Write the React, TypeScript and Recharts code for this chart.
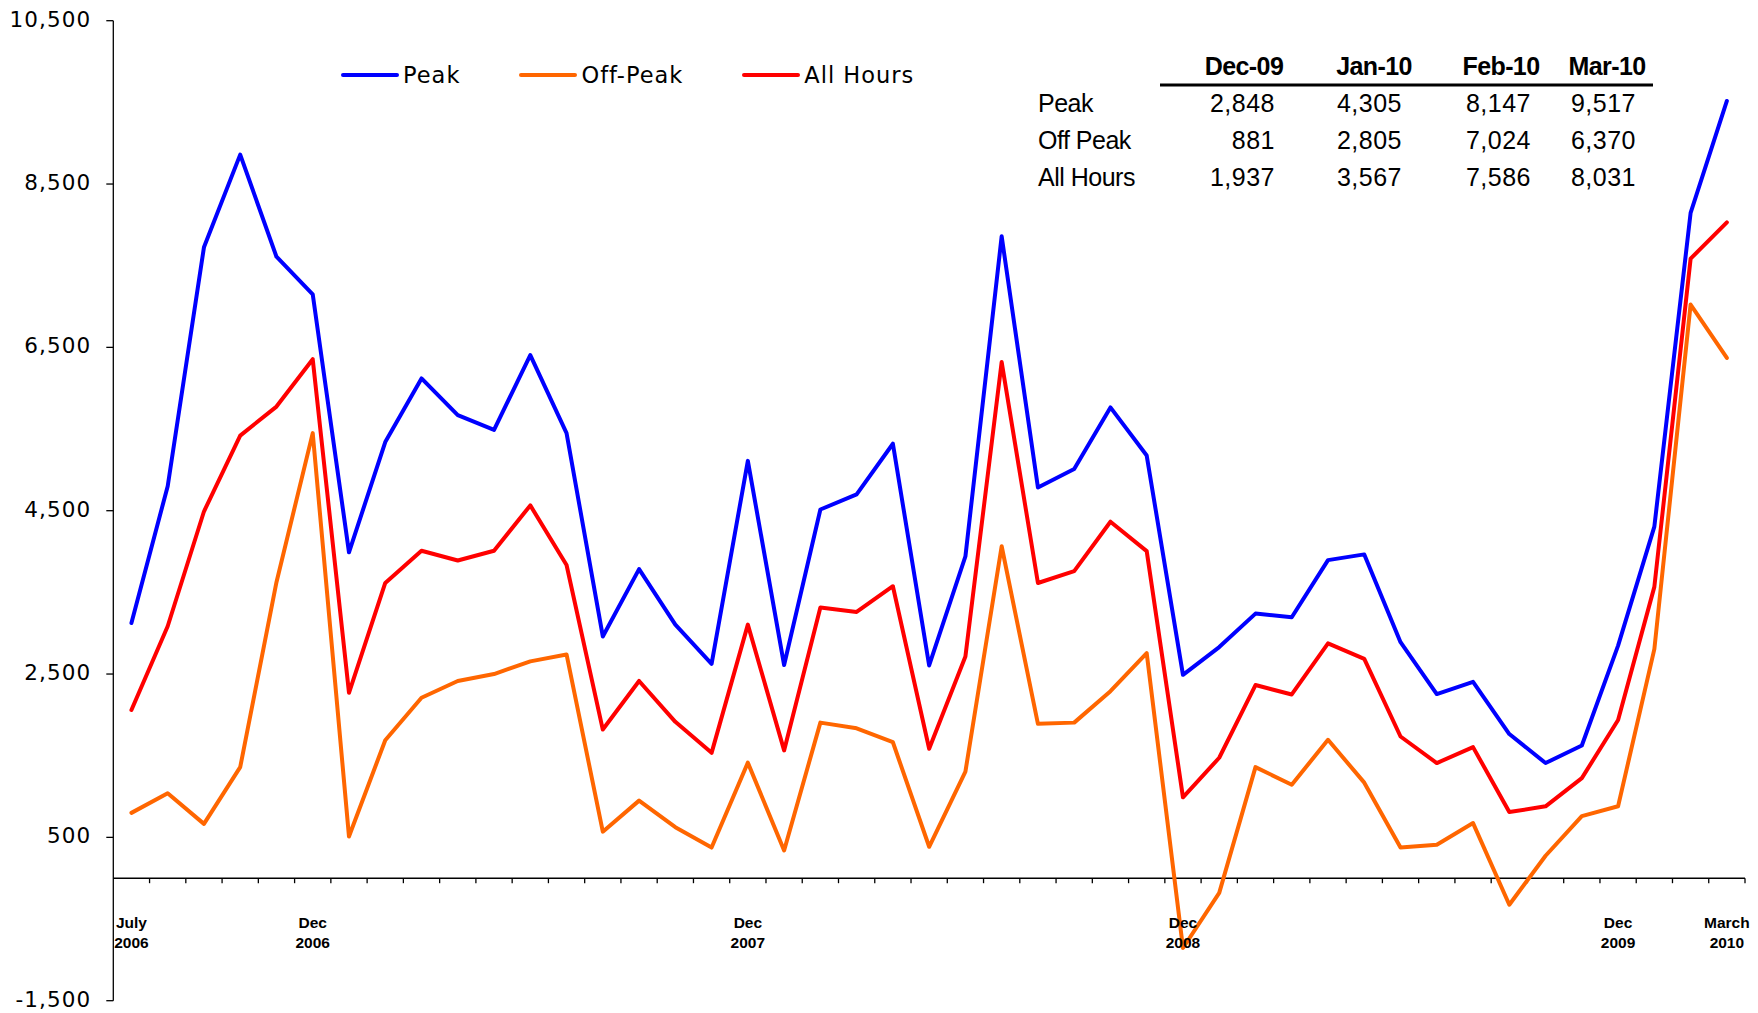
import { LineChart, Line, XAxis, YAxis, ReferenceLine } from 'recharts';

const MONTHS = [
  'Jul-06', 'Aug-06', 'Sep-06', 'Oct-06', 'Nov-06', 'Dec-06',
  'Jan-07', 'Feb-07', 'Mar-07', 'Apr-07', 'May-07', 'Jun-07', 'Jul-07', 'Aug-07', 'Sep-07', 'Oct-07', 'Nov-07', 'Dec-07',
  'Jan-08', 'Feb-08', 'Mar-08', 'Apr-08', 'May-08', 'Jun-08', 'Jul-08', 'Aug-08', 'Sep-08', 'Oct-08', 'Nov-08', 'Dec-08',
  'Jan-09', 'Feb-09', 'Mar-09', 'Apr-09', 'May-09', 'Jun-09', 'Jul-09', 'Aug-09', 'Sep-09', 'Oct-09', 'Nov-09', 'Dec-09',
  'Jan-10', 'Feb-10', 'Mar-10',
];

const PEAK = [
  3125, 4800, 7725, 8860, 7610, 7150, 3990, 5340, 6120, 5670, 5490, 6405, 5450, 2960, 3785, 3105, 2625, 5110,
  2610, 4515, 4700, 5320, 2605, 3940, 7860, 4785, 5010, 5765, 5175, 2490, 2830, 3240, 3195, 3895, 3965, 2890,
  2255, 2405, 1765, 1410, 1625, 2848, 4305, 8147, 9517,
];

const OFF_PEAK = [
  800, 1040, 665, 1360, 3625, 5450, 510, 1690, 2210, 2415, 2500, 2655, 2740, 570, 950, 625, 375, 1415,
  340, 1905, 1835, 1665, 385, 1305, 4065, 1890, 1905, 2290, 2755, -855, -180, 1360, 1145, 1695, 1170, 375,
  410, 675, -325, 275, 760, 881, 2805, 7024, 6370,
];

const ALL_HOURS = [
  2060, 3085, 4490, 5420, 5775, 6355, 2270, 3615, 4010, 3890, 4010, 4565, 3835, 1820, 2415, 1915, 1535, 3105,
  1565, 3315, 3260, 3575, 1585, 2715, 6320, 3615, 3760, 4365, 4005, 990, 1475, 2365, 2250, 2875, 2685, 1735,
  1410, 1605, 810, 880, 1225, 1937, 3567, 7586, 8031,
];

const Y_TICKS = [-1500, 500, 2500, 4500, 6500, 8500, 10500];
const X_TICK_MONTHS = ['Jul-06', 'Dec-06', 'Dec-07', 'Dec-08', 'Dec-09', 'Mar-10'];
const X_TICK_LINES = [
  ['July', '2006'], ['Dec', '2006'], ['Dec', '2007'], ['Dec', '2008'], ['Dec', '2009'], ['March', '2010'],
];

const TABLE_COLS = ['Dec-09', 'Jan-10', 'Feb-10', 'Mar-10'];
const TABLE_ROWS = ['Peak', 'Off Peak', 'All Hours'];

const SERIES = [
  { key: 'peak', name: 'Peak', color: '#0000ff' },
  { key: 'offPeak', name: 'Off-Peak', color: '#ff6600' },
  { key: 'allHours', name: 'All Hours', color: '#ff0000' },
];

const data = MONTHS.map((month, i) => ({
  i,
  month,
  peak: PEAK[i],
  offPeak: OFF_PEAK[i],
  allHours: ALL_HOURS[i],
}));

// tick marks sit between categories, on the zero line
const boundaries = MONTHS.map((_, k) => k + 0.5);
const tableValues = [PEAK, OFF_PEAK, ALL_HOURS].map(s => s.slice(s.length - TABLE_COLS.length));

const W = 1758;
const H = 1013;
const SANS = '"Liberation Sans", Arial, sans-serif';
const WIDE = '"DejaVu Sans", Verdana, sans-serif';
const fmt = (v: number) => v.toLocaleString('en-US');

const ZeroTick = (props: any) => (
  <line x1={props.x1} y1={props.y1} x2={props.x1} y2={props.y1 + 5} stroke="#000" strokeWidth={1.3} />
);

const YTick = ({ x, y, payload }: any) => (
  <text x={x} y={y} dy={6} textAnchor="end" fontFamily={WIDE} fontSize={21.5} letterSpacing={1.1} fill="#000">
    {fmt(payload.value)}
  </text>
);

const XTick = ({ x, y, payload }: any) => {
  const lines = X_TICK_LINES[X_TICK_MONTHS.indexOf(MONTHS[payload.value])] || [];
  return (
    <text x={x} y={y - 72.5} textAnchor="middle" fontFamily={SANS} fontSize={15.5} fontWeight="bold" fill="#000">
      {lines.map((t, k) => (
        <tspan key={k} x={x} dy={k === 0 ? 0 : 20}>{t}</tspan>
      ))}
    </text>
  );
};

// table column anchors: header centre, value right edge
const COL_CENTER = [1244, 1374, 1501, 1607];
const COL_RIGHT = [1275, 1402, 1531, 1636];
const ROW_BASE = [112, 148.5, 186];

export default function App() {
  return (
    <div style={{ position: 'absolute', left: 0, top: 0, width: W, height: H, background: '#fff' }}>
      <LineChart width={W} height={H} data={data} margin={{ top: 20.7, right: 13, bottom: 0, left: 13.3 }}>
        <XAxis
          type="number"
          dataKey="i"
          domain={[-0.5, MONTHS.length - 0.5]}
          ticks={X_TICK_MONTHS.map(m => MONTHS.indexOf(m))}
          axisLine={false}
          tickLine={false}
          tickSize={0}
          tickMargin={0}
          height={12.3}
          tick={<XTick />}
          interval={0}
        />
        <YAxis
          type="number"
          domain={[-1500, 10500]}
          ticks={Y_TICKS}
          width={100}
          axisLine={{ stroke: '#000', strokeWidth: 1.3 }}
          tickLine={{ stroke: '#000', strokeWidth: 1.3 }}
          tickSize={7}
          tickMargin={15}
          tick={<YTick />}
          interval={0}
        />
        <ReferenceLine y={0} stroke="#000" strokeWidth={1.5} />
        {boundaries.map(b => (
          <ReferenceLine key={b} segment={[{ x: b, y: 0 }, { x: b, y: 0 }]} shape={ZeroTick} ifOverflow="visible" />
        ))}
        {SERIES.map(s => (
          <Line
            key={s.key}
            type="linear"
            dataKey={s.key}
            name={s.name}
            stroke={s.color}
            strokeWidth={4}
            strokeLinejoin="round"
            strokeLinecap="round"
            dot={false}
            activeDot={false}
            isAnimationActive={false}
          />
        ))}
      </LineChart>

      {/* legend */}
      <div style={{ position: 'absolute', left: 340, top: 62, display: 'flex', alignItems: 'center', gap: 58 }}>
        {SERIES.map(s => (
          <div key={s.key} style={{ display: 'flex', alignItems: 'center' }}>
            <svg width={59} height={8}>
              <line x1={3} y1={4} x2={57} y2={4} stroke={s.color} strokeWidth={4} strokeLinecap="round" />
            </svg>
            <span style={{ fontFamily: WIDE, fontSize: 22.5, letterSpacing: 1, color: '#000', marginLeft: 4, lineHeight: '26px' }}>
              {s.name}
            </span>
          </div>
        ))}
      </div>

      {/* data table */}
      <svg width={W} height={220} style={{ position: 'absolute', left: 0, top: 0 }}>
        {TABLE_COLS.map((c, k) => (
          <text key={c} x={COL_CENTER[k]} y={75} textAnchor="middle" fontFamily={SANS} fontSize={25} fontWeight="bold" letterSpacing={-0.6} fill="#000">
            {c}
          </text>
        ))}
        <line x1={1160} y1={85} x2={1653} y2={85} stroke="#000" strokeWidth={3} />
        {TABLE_ROWS.map((r, ri) => (
          <g key={r}>
            <text x={1038} y={ROW_BASE[ri]} fontFamily={SANS} fontSize={25} letterSpacing={-0.5} fill="#000">{r}</text>
            {tableValues[ri].map((v, k) => (
              <text key={k} x={COL_RIGHT[k]} y={ROW_BASE[ri]} textAnchor="end" fontFamily={SANS} fontSize={25} letterSpacing={0.5} fill="#000">
                {fmt(v)}
              </text>
            ))}
          </g>
        ))}
      </svg>
    </div>
  );
}
